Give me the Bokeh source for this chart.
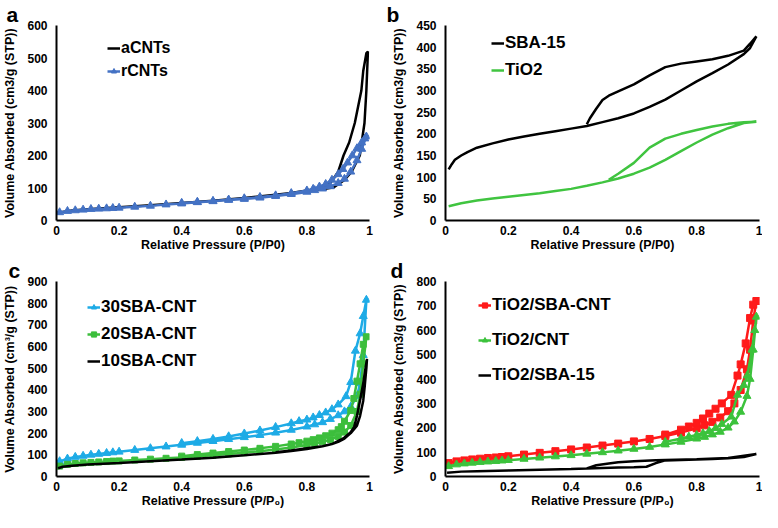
from bokeh.plotting import figure
from bokeh.layouts import gridplot
from bokeh.models import Range1d, FixedTicker, CustomJSTickFormatter
from bokeh.embed import file_html
from bokeh.resources import INLINE

FONT = "Liberation Sans"

# ---------------- data ----------------
grid_a = [0.01, 0.035, 0.06, 0.085, 0.11, 0.135, 0.16, 0.18, 0.2, 0.25, 0.3, 0.35, 0.4, 0.45, 0.5,
          0.55, 0.6, 0.65, 0.7, 0.75, 0.8, 0.825, 0.85, 0.875, 0.9, 0.92, 0.94, 0.96, 0.975, 0.99]
grid_cd = [0.01, 0.035, 0.06, 0.085, 0.11, 0.135, 0.16, 0.18, 0.2, 0.25, 0.3, 0.35, 0.4, 0.45, 0.5,
           0.55, 0.6, 0.65, 0.7, 0.75, 0.8, 0.825, 0.85, 0.875, 0.9, 0.92, 0.94, 0.96, 0.97, 0.98, 0.99]

# panel a
acnt_ads_x = [0.01, 0.05, 0.1, 0.2, 0.3, 0.4, 0.5, 0.6, 0.7, 0.8, 0.85, 0.886, 0.92, 0.943, 0.969, 0.984, 0.99, 0.995]
acnt_ads_y = [25, 31, 35, 41, 47, 54, 61, 69, 79, 90, 96, 102, 125, 150, 200, 300, 400, 520]
acnt_des_x = [0.99, 0.98, 0.974, 0.953, 0.935, 0.917, 0.9, 0.88, 0.865, 0.85, 0.8, 0.75]
acnt_des_y = [515, 460, 400, 300, 240, 200, 150, 122, 107, 100, 92, 85]
rcnt_ads_y = [25, 29, 31, 33, 35, 36, 37, 38, 39, 42, 45, 49, 52, 56, 59, 63, 66, 70, 75, 81,
              88, 93, 98, 105, 115, 128, 150, 185, 220, 258]
rcnt_des_x = [0.985, 0.975, 0.96, 0.945, 0.93, 0.915, 0.9, 0.88, 0.86, 0.84, 0.82, 0.8, 0.75, 0.7,
              0.65, 0.6, 0.55, 0.5, 0.45, 0.4]
rcnt_des_y = [252, 240, 222, 200, 178, 158, 142, 125, 112, 104, 97, 92, 84, 77, 72, 68, 64, 60, 57, 54]

# panel b
sba_ads_x = [0.01, 0.02, 0.03, 0.05, 0.07, 0.1, 0.15, 0.2, 0.25, 0.3, 0.35, 0.4, 0.45, 0.5, 0.55,
             0.6, 0.65, 0.7, 0.75, 0.8, 0.85, 0.9, 0.95, 0.97, 0.99]
sba_ads_y = [118, 130, 140, 150, 158, 168, 178, 187, 194, 200, 206, 212, 218, 227, 236, 247, 262,
             279, 300, 321, 340, 360, 384, 398, 425]
sba_des_x = [0.97, 0.95, 0.9, 0.85, 0.8, 0.75, 0.7, 0.65, 0.6, 0.55, 0.52, 0.5, 0.48, 0.46, 0.45]
sba_des_y = [408, 392, 380, 372, 367, 362, 354, 335, 314, 298, 288, 278, 258, 236, 222]
tio2_ads_x = [0.01, 0.05, 0.1, 0.15, 0.2, 0.25, 0.3, 0.35, 0.4, 0.45, 0.5, 0.55, 0.6, 0.65, 0.7,
              0.75, 0.8, 0.85, 0.9, 0.95, 0.99]
tio2_ads_y = [33, 40, 46, 51, 55, 59, 63, 68, 73, 80, 88, 97, 108, 122, 140, 160, 180, 198, 213, 225, 228]
tio2_des_x = [0.95, 0.9, 0.85, 0.8, 0.75, 0.7, 0.65, 0.6, 0.55, 0.52]
tio2_des_y = [227, 223, 217, 209, 200, 189, 168, 133, 108, 94]

# panel c
s30_ads_y = [70, 82, 90, 95, 100, 104, 108, 111, 114, 122, 130, 138, 146, 155, 163, 172, 181, 191,
             202, 215, 230, 240, 250, 265, 282, 300, 322, 370, 430, 560, 815]
s30_des_x = [0.98, 0.97, 0.955, 0.94, 0.925, 0.9, 0.88, 0.86, 0.84, 0.82, 0.8, 0.775, 0.75, 0.7,
             0.65, 0.6, 0.55, 0.5, 0.45, 0.4]
s30_des_y = [740, 660, 580, 435, 370, 332, 310, 295, 283, 272, 262, 255, 245, 228, 212, 198, 185,
             173, 163, 154]
s20_ads_y = [48, 56, 60, 63, 65, 67, 69, 71, 72, 76, 80, 84, 88, 93, 98, 104, 110, 117, 125, 134,
             145, 152, 160, 170, 185, 205, 235, 300, 380, 520, 645]
s20_des_x = [0.98, 0.97, 0.96, 0.95, 0.94, 0.92, 0.91, 0.9, 0.88, 0.86, 0.84, 0.82, 0.8, 0.775,
             0.75, 0.7, 0.65, 0.6, 0.55, 0.5, 0.45, 0.4]
s20_des_y = [610, 520, 440, 360, 305, 255, 230, 216, 200, 188, 178, 170, 163, 156, 150, 139, 130,
             122, 115, 108, 101, 94]
s10_ads_x = [0.005, 0.02, 0.05, 0.1, 0.2, 0.3, 0.4, 0.5, 0.6, 0.7, 0.75, 0.8, 0.85, 0.88, 0.9, 0.92,
             0.94, 0.96, 0.97, 0.98, 0.985, 0.99, 0.992]
s10_ads_y = [38, 45, 50, 55, 62, 70, 78, 87, 98, 110, 118, 127, 140, 150, 160, 175, 200, 235, 280,
             350, 420, 500, 543]
s10_des_x = [0.985, 0.98, 0.971, 0.96, 0.951, 0.94, 0.92, 0.91, 0.88, 0.85, 0.8, 0.75, 0.7]
s10_des_y = [480, 430, 360, 280, 229, 205, 180, 171, 150, 140, 130, 120, 112]

# panel d
tsc_ads_y = [55, 62, 66, 70, 73, 76, 78, 80, 83, 90, 97, 104, 111, 119, 127, 135, 144, 154, 166,
             180, 198, 210, 224, 242, 268, 300, 355, 440, 520, 640, 720]
tsc_des_x = [0.98, 0.97, 0.956, 0.94, 0.93, 0.91, 0.88, 0.86, 0.84, 0.82, 0.8, 0.775, 0.75, 0.7]
tsc_des_y = [705, 650, 546, 460, 414, 335, 300, 278, 258, 238, 220, 205, 192, 172]
tc_ads_y = [42, 49, 53, 56, 59, 61, 63, 65, 67, 72, 77, 82, 87, 93, 99, 106, 113, 121, 131, 142,
            155, 162, 172, 183, 200, 225, 265, 330, 400, 520, 655]
tc_des_x = [0.985, 0.976, 0.961, 0.95, 0.93, 0.91, 0.88, 0.86, 0.84, 0.82, 0.8, 0.775, 0.75, 0.7]
tc_des_y = [600, 520, 414, 375, 335, 245, 215, 198, 186, 177, 170, 163, 156, 142]
tsba_ads_x = [0.005, 0.05, 0.1, 0.2, 0.3, 0.4, 0.45, 0.5, 0.55, 0.6, 0.64, 0.67, 0.7, 0.75, 0.8,
              0.85, 0.9, 0.95, 0.99]
tsba_ads_y = [15, 20, 22, 25, 28, 31, 33, 35, 37, 38, 40, 55, 66, 68, 70, 72, 75, 80, 92]
tsba_des_x = [0.9, 0.8, 0.7, 0.67, 0.6, 0.55, 0.52, 0.48, 0.45]
tsba_des_y = [76, 71, 68, 67, 63, 58, 53, 46, 33]

x_ticks = [0, 0.2, 0.4, 0.6, 0.8, 1]
ylabel_plain = "Volume Absorbed (cm3/g (STP))"
ylabel_sup = "Volume Absorbed (cm\u00b3/g (STP))"
xlabel_plain = "Relative Pressure (P/P0)"
xlabel_sub = "Relative Pressure (P/P\u2080)"

fmt = CustomJSTickFormatter(code="return String(Math.round(tick*10)/10);")


def make_fig(letter, ymax, ystep, ylabel, xlabel, w, h, bl, br, bt, bb, letter_x):
    p = figure(width=w, height=h, x_range=Range1d(0, 1), y_range=Range1d(0, ymax),
               output_backend="svg", toolbar_location=None, title=letter,
               min_border_left=bl, min_border_right=br, min_border_top=bt, min_border_bottom=bb)
    p.title.align = "left"
    p.title.offset = letter_x
    p.title.standoff = 0
    p.title.text_font = FONT
    p.title.text_font_style = "bold"
    p.title.text_font_size = "21px"
    p.title.text_color = "black"
    p.outline_line_color = None
    p.grid.grid_line_color = None
    p.xaxis.ticker = FixedTicker(ticks=x_ticks)
    p.xaxis.formatter = fmt
    p.yaxis.ticker = FixedTicker(ticks=list(range(0, ymax + 1, ystep)))
    for ax in (p.xaxis[0], p.yaxis[0]):
        ax.axis_line_width = 2
        ax.axis_line_color = "black"
        ax.major_tick_line_color = None
        ax.minor_tick_line_color = None
        ax.major_tick_out = 0
        ax.major_tick_in = 0
        ax.minor_tick_out = 0
        ax.major_label_text_font = FONT
        ax.major_label_text_font_style = "bold"
        ax.major_label_text_font_size = "12px"
        ax.major_label_text_color = "black"
        ax.axis_label_text_font = FONT
        ax.axis_label_text_font_style = "bold"
        ax.axis_label_text_font_size = "12.5px"
        ax.axis_label_text_color = "black"
    p.xaxis.axis_label = xlabel
    p.yaxis.axis_label = ylabel
    p.xaxis.major_label_standoff = 5
    p.xaxis.axis_label_standoff = 0
    p.yaxis.major_label_standoff = 9
    p.yaxis.axis_label_standoff = 7
    return p


def style_legend(p, loc, font_size, gh, spacing):
    lg = p.legend[0]
    lg.location = loc
    lg.margin = 0
    lg.padding = 0
    lg.spacing = spacing
    lg.glyph_height = gh
    lg.glyph_width = 13
    lg.label_standoff = 1
    lg.label_text_font = FONT
    lg.label_text_font_style = "bold"
    lg.label_text_font_size = font_size
    lg.label_text_color = "black"
    lg.border_line_color = None
    lg.background_fill_alpha = 0


# ---- panel a ----
pa = make_fig("a", 600, 100, ylabel_plain, xlabel_plain, 381, 256, 51, 12, 24, 36, -50)
pa.line(acnt_ads_x + acnt_des_x, acnt_ads_y + acnt_des_y, line_color="black", line_width=2.5,
        legend_label="aCNTs")
blue_a = "#4472C4"
pa.line(grid_a + rcnt_des_x, rcnt_ads_y + rcnt_des_y, line_color=blue_a, line_width=2.5, legend_label="rCNTs")
pa.scatter(grid_a + rcnt_des_x, rcnt_ads_y + rcnt_des_y, marker="triangle", size=8, fill_color=blue_a,
           line_color=blue_a, legend_label="rCNTs")
style_legend(pa, (51, 139), "16px", 20, 3)

# ---- panel b ----
pb = make_fig("b", 450, 50, ylabel_plain, xlabel_plain, 381, 256, 64, 3, 24, 36, -59)
pb.line(sba_ads_x + sba_des_x, sba_ads_y + sba_des_y, line_color="black", line_width=2.5, legend_label="SBA-15")
pb.line(tio2_ads_x + tio2_des_x, tio2_ads_y + tio2_des_y, line_color="#40C440", line_width=2.5,
        legend_label="TiO2")
style_legend(pb, (46, 139), "17px", 22, 5)

# ---- panel c ----
pc = make_fig("c", 900, 100, ylabel_sup, xlabel_sub, 381, 256, 51, 10, 24, 36, -48)
blue_c = "#1EABE6"
green_c = "#3CBE3C"
pc.line(grid_cd + s30_des_x, s30_ads_y + s30_des_y, line_color=blue_c, line_width=2.5, legend_label="30SBA-CNT")
pc.scatter(grid_cd + s30_des_x, s30_ads_y + s30_des_y, marker="triangle", size=8, fill_color=blue_c,
           line_color=blue_c, legend_label="30SBA-CNT")
pc.line(grid_cd + s20_des_x, s20_ads_y + s20_des_y, line_color=green_c, line_width=2.5, legend_label="20SBA-CNT")
pc.scatter(grid_cd + s20_des_x, s20_ads_y + s20_des_y, marker="square", size=6, fill_color=green_c,
           line_color=green_c, legend_label="20SBA-CNT")
pc.line(s10_ads_x + s10_des_x, s10_ads_y + s10_des_y, line_color="black", line_width=2.5,
        legend_label="10SBA-CNT")
style_legend(pc, (31, 104), "17px", 22, 5)

# ---- panel d ----
pd_ = make_fig("d", 800, 100, ylabel_plain, xlabel_sub, 381, 256, 57, 3, 24, 36, -55)
red_d = "#FF1A1A"
green_d = "#3CC23C"
pd_.line(grid_cd + tsc_des_x, tsc_ads_y + tsc_des_y, line_color=red_d, line_width=2.5,
         legend_label="TiO2/SBA-CNT")
pd_.scatter(grid_cd + tsc_des_x, tsc_ads_y + tsc_des_y, marker="square", size=7, fill_color=red_d,
            line_color=red_d, legend_label="TiO2/SBA-CNT")
pd_.line(grid_cd + tc_des_x, tc_ads_y + tc_des_y, line_color=green_d, line_width=2.5, legend_label="TiO2/CNT")
pd_.scatter(grid_cd + tc_des_x, tc_ads_y + tc_des_y, marker="triangle", size=8, fill_color=green_d,
            line_color=green_d, legend_label="TiO2/CNT")
pd_.line(tsba_ads_x + tsba_des_x, tsba_ads_y + tsba_des_y, line_color="black", line_width=2.5,
         legend_label="TiO2/SBA-15")
style_legend(pd_, (33, 90), "17px", 22, 13)

grid = gridplot([[pa, pb], [pc, pd_]], toolbar_location=None)

with open("out.html", "w") as f:
    f.write(file_html(grid, INLINE))
